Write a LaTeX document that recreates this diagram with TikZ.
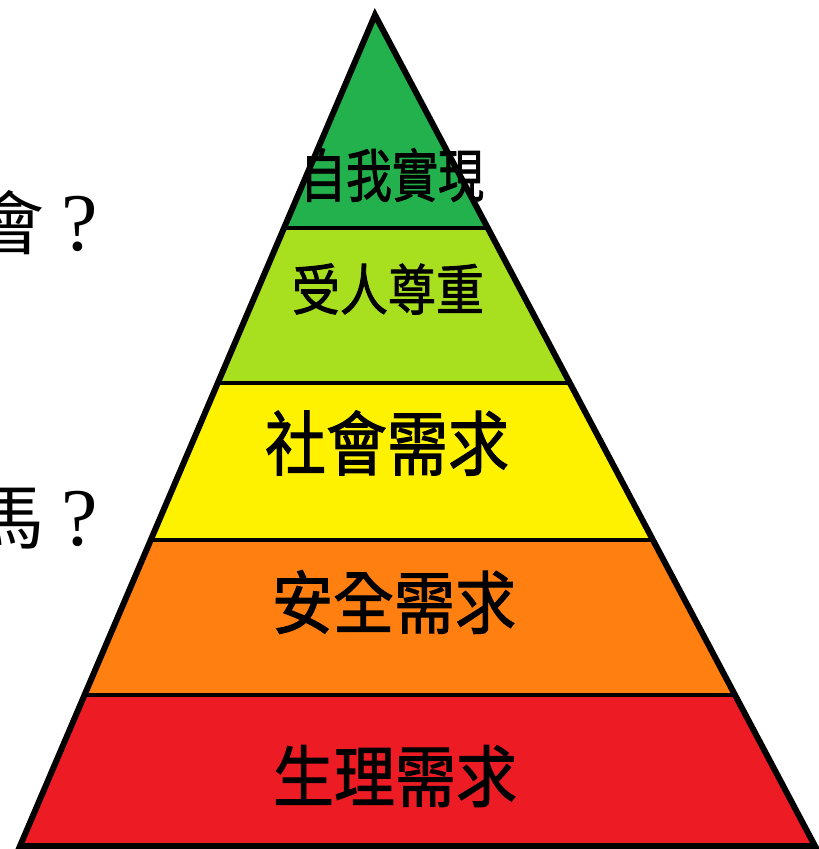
\documentclass[tikz,border=0pt]{standalone}
\usepackage{fontspec}
\newfontfamily\cjk{Noto Sans CJK TC}
\newfontfamily\cjkm{Noto Sans CJK TC}[FakeBold=1.6]
\newfontfamily\qfont{Liberation Serif}
\usetikzlibrary{calc}
\definecolor{cone}{HTML}{22B14C}
\definecolor{ctwo}{HTML}{A8E01F}
\definecolor{cthree}{HTML}{FFF200}
\definecolor{cfour}{HTML}{FF8010}
\definecolor{cfive}{HTML}{ED1C24}
\tikzset{
  outline/.style={draw=black, line width=6pt, line join=miter},
  sep/.style={draw=black, line width=4.5pt},
  lbl/.style={inner sep=0pt, text=black},
  side/.style={inner sep=0pt, text=black}
}
\begin{document}
\begin{tikzpicture}[x=1pt,y=-1pt]
\useasboundingbox (0,0) rectangle (819,849);
\clip (0,0) rectangle (819,849);
\coordinate (A) at (375,15);
\coordinate (L) at (20,846);
\coordinate (R) at (815,846);
\coordinate (l1) at ($(A)!0.2563!(L)$);
\coordinate (r1) at ($(A)!0.2563!(R)$);
\coordinate (l2) at ($(A)!0.4428!(L)$);
\coordinate (r2) at ($(A)!0.4428!(R)$);
\coordinate (l3) at ($(A)!0.6318!(L)$);
\coordinate (r3) at ($(A)!0.6318!(R)$);
\coordinate (l4) at ($(A)!0.8183!(L)$);
\coordinate (r4) at ($(A)!0.8183!(R)$);
\fill[cone] (A) -- (r1) -- (l1) -- cycle;
\fill[ctwo] (l1) -- (r1) -- (r2) -- (l2) -- cycle;
\fill[cthree] (l2) -- (r2) -- (r3) -- (l3) -- cycle;
\fill[cfour] (l3) -- (r3) -- (r4) -- (l4) -- cycle;
\fill[cfive] (l4) -- (r4) -- (R) -- (L) -- cycle;
\draw[sep] (l1) -- (r1);
\draw[sep] (l2) -- (r2);
\draw[sep] (l3) -- (r3);
\draw[sep] (l4) -- (r4);
\draw[outline] (A) -- (R) -- (L) -- cycle;
\node[lbl, font=\cjkm\fontsize{46}{46}\selectfont, yscale=1.25] (t1) at (392,175) {自我實現};
\node[lbl, font=\cjkm\fontsize{48}{48}\selectfont, yscale=1.15] (t2) at (388,289) {受人尊重};
\node[lbl, font=\cjkm\fontsize{61}{61}\selectfont, yscale=1.15] (t3) at (387,443) {社會需求};
\node[lbl, font=\cjkm\fontsize{61}{61}\selectfont, yscale=1.12] (t4) at (394,602) {安全需求};
\node[lbl, font=\cjkm\fontsize{61}{61}\selectfont, yscale=1.10] (t5) at (395,776) {生理需求};
\node[side, font=\cjk\fontsize{70}{70}\selectfont] (s1) at (10,223) {會};
\node[side, anchor=base, font=\qfont\fontsize{82}{82}\selectfont] (q1) at (80,250) {?};
\node[side, font=\cjk\fontsize{70}{70}\selectfont] (s2) at (10,519) {馬};
\node[side, anchor=base, font=\qfont\fontsize{82}{82}\selectfont] (q2) at (80,545) {?};
\end{tikzpicture}
\end{document}
